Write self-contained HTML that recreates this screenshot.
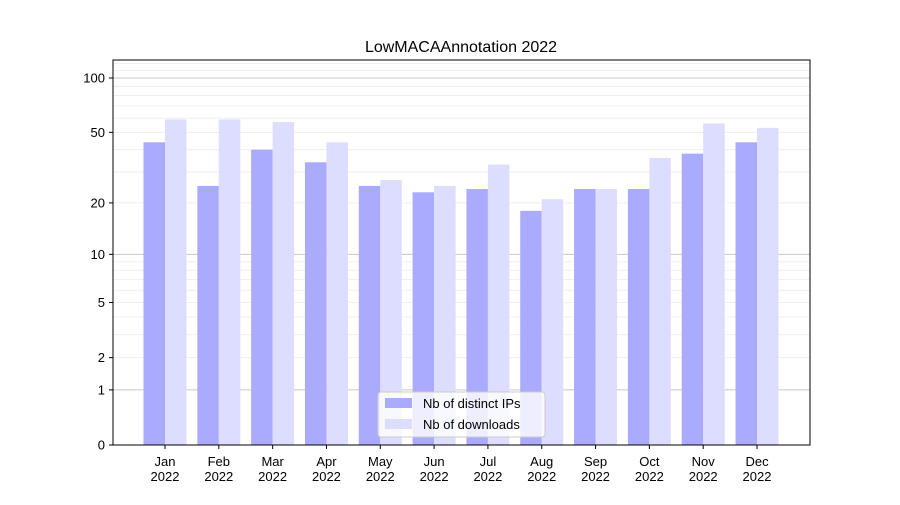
<!DOCTYPE html>
<html><head><meta charset="utf-8"><style>
html,body{margin:0;padding:0;background:#fff;}
svg text{font-family:"Liberation Sans","DejaVu Sans",sans-serif;}
</style></head><body>
<svg id="chart" width="900" height="500" xmlns="http://www.w3.org/2000/svg">
<rect width="900" height="500" fill="#fff"/>
<text x="461" y="52" font-size="16" text-anchor="middle">LowMACAAnnotation 2022</text>
<g id="grid"></g><g id="bars"></g><g id="axes"></g>
</svg>
<script>
const months = ["Jan","Feb","Mar","Apr","May","Jun","Jul","Aug","Sep","Oct","Nov","Dec"];
const distinctIPs = [44,25,40,34,25,23,24,18,24,24,38,44];
const downloads = [59,59,57,44,27,25,33,21,24,36,56,53];
const yTicks = [0,1,2,5,10,20,50,100];
const minorTicks = [2,3,4,5,6,7,8,9,20,30,40,50,60,70,80,90,110,120];
const majorTicks = [1,10,100];

const NS="http://www.w3.org/2000/svg";
const L=113,R=810,T=60,B=445;
function y(v){return B-183.1*Math.log10(v+1);}
function xc(i){return 165+i*53.82;}
function mk(tag,attrs,parent){const e=document.createElementNS(NS,tag);for(const k in attrs)e.setAttribute(k,attrs[k]);parent.appendChild(e);return e;}
const grid=document.getElementById('grid'),bars=document.getElementById('bars'),axes=document.getElementById('axes');
minorTicks.forEach(v=>{const yy=y(v);if(yy<T)return;const l=mk('line',{x1:L,x2:R,y1:yy,y2:yy,stroke:'#ebebeb','stroke-width':0.8},grid);

});
majorTicks.forEach(v=>{const yy=y(v);const l=mk('line',{x1:L,x2:R,y1:yy,y2:yy,stroke:'#c8c8c8','stroke-width':1},grid);

});
const bw=21.5;
months.forEach((m,i)=>{
 const c=xc(i);
 const b1=mk('rect',{x:c-bw,y:y(distinctIPs[i]),width:bw,height:B-y(distinctIPs[i]),fill:'#aaaaff'},bars);
 
 
 const b2=mk('rect',{x:c,y:y(downloads[i]),width:bw,height:B-y(downloads[i]),fill:'#ddddff'},bars);
 
 
 mk('line',{x1:c,x2:c,y1:B,y2:B+4,stroke:'#000'},axes);
 const t=mk('text',{x:c,y:B+21,'font-size':13,'text-anchor':'middle'},axes);t.textContent=m;
 
 
 const t2=mk('text',{x:c,y:B+36,'font-size':13,'text-anchor':'middle'},axes);t2.textContent='2022';
 
 
});
yTicks.forEach(v=>{const yy=y(v);mk('line',{x1:L-4,x2:L,y1:yy,y2:yy,stroke:'#000'},axes);
 const t=mk('text',{x:L-8,y:yy+4.5,'font-size':13,'text-anchor':'end'},axes);t.textContent=v;
 
 });
const frame=mk('rect',{x:L,y:T,width:R-L,height:B-T,fill:'none',stroke:'#000','stroke-width':1},axes);


const lg=mk('g',{},axes);


mk('rect',{x:378,y:392,width:167,height:45,rx:3,fill:'#fff','fill-opacity':0.8,stroke:'#ccc'},lg);
mk('rect',{x:385,y:398,width:27,height:10,fill:'#aaaaff'},lg);
mk('rect',{x:385,y:419,width:27,height:10,fill:'#ddddff'},lg);
const l1=mk('text',{x:423,y:408,'font-size':13},lg);l1.textContent='Nb of distinct IPs';


const l2=mk('text',{x:423,y:429,'font-size':13},lg);l2.textContent='Nb of downloads';


</script>
</body></html>
